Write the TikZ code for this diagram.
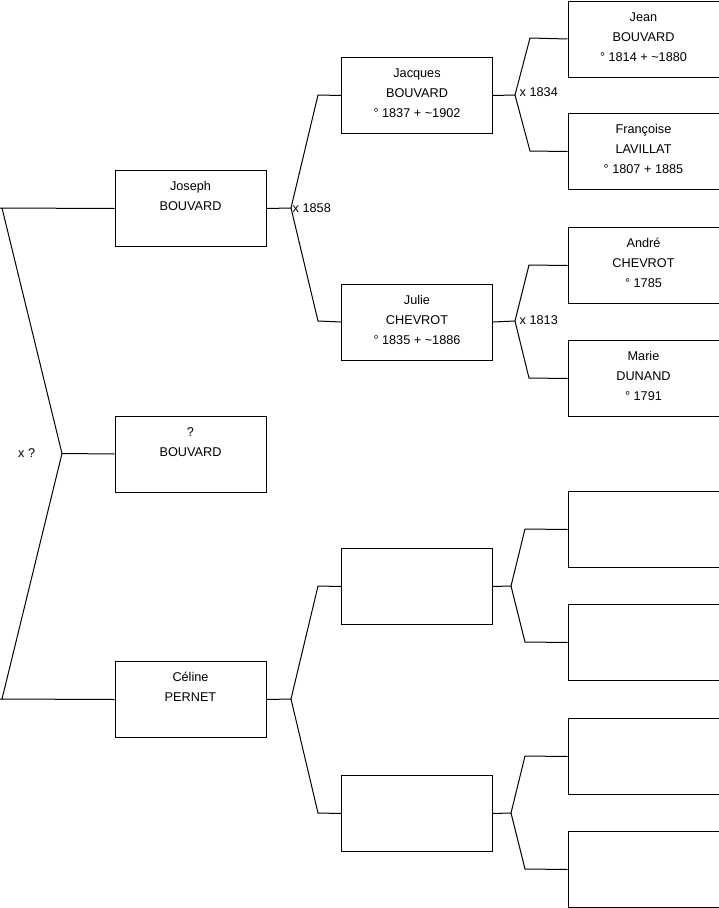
\documentclass[tikz,border=0pt]{standalone}
\usepackage{fontspec}
\setmainfont{Liberation Sans}
\usetikzlibrary{calc}
\tikzset{
  pbox/.style={draw=black, line width=1pt, rectangle, anchor=north west, minimum width=151pt, minimum height=76pt, inner sep=0pt},
  ptext/.style={anchor=base, inner sep=0pt, font=\fontsize{12.7}{20}\selectfont},
  link/.style={draw=black, line width=1pt, line join=miter},
  mlabel/.style={anchor=west, inner sep=0pt, font=\fontsize{12.7}{15}\selectfont}
}
\newcommand\pers[4]{%
  \node[pbox] (#1) at (#2,#3) {};
  \node[ptext] (#1t) at ($(#1.north)+(0,20.5)$) {\begin{tabular}[t]{@{}c@{}}#4\end{tabular}};}
\begin{document}
\begin{tikzpicture}[x=1pt,y=-1pt]
\useasboundingbox (0,0) rectangle (719,908);
% level 1
\pers{joseph}{114.5}{170}{Joseph\\BOUVARD}
\pers{unk}{114.5}{415.5}{?\\BOUVARD}
\pers{celine}{114.5}{661}{Céline\\PERNET}
% level 2
\pers{jacques}{341}{57}{Jacques\\BOUVARD\\° 1837 + \textasciitilde1902}
\pers{julie}{341}{283.5}{Julie\\CHEVROT\\° 1835 + \textasciitilde1886}
\node[pbox] (e2a) at (341,548) {};
\node[pbox] (e2b) at (341,775) {};
% level 3
\pers{jean}{567.5}{0.5}{Jean\\BOUVARD\\° 1814 + \textasciitilde1880}
\pers{francoise}{567.5}{113}{Françoise\\LAVILLAT\\° 1807 + 1885}
\pers{andre}{567.5}{227}{André\\CHEVROT\\° 1785}
\pers{marie}{567.5}{340}{Marie\\DUNAND\\° 1791}
\node[pbox] (e3a) at (567.5,491) {};
\node[pbox] (e3b) at (567.5,604) {};
\node[pbox] (e3c) at (567.5,718) {};
\node[pbox] (e3d) at (567.5,831) {};
% root fork
\coordinate (r0) at (62,453.5);
\coordinate (rt) at (2,208);
\coordinate (rb) at (2,699);
\draw[link] (joseph.west) -- (0,208) (rt) -- (r0) -- (rb) (0,699) -- (celine.west);
\draw[link] (r0) -- (unk.west);
\node[mlabel] (mroot) at (18,453) {x ?};
% level1 -> level2
\coordinate (f1) at (291,208);
\draw[link] (joseph.east) -- (f1) -- (318,95) -- (jacques.west);
\draw[link] (f1) -- (318,321) -- (julie.west);
\node[mlabel] (m1858) at (292.5,208) {x 1858};
\coordinate (f2) at (291,699);
\draw[link] (celine.east) -- (f2) -- (318,586) -- (e2a.west);
\draw[link] (f2) -- (318,813) -- (e2b.west);
% level2 -> level3
\coordinate (f3) at (515,95);
\draw[link] (jacques.east) -- (f3) -- (530,38) -- (jean.west);
\draw[link] (f3) -- (530,151) -- (francoise.west);
\node[mlabel] (m1834) at (519.5,92) {x 1834};
\coordinate (f4) at (515,321);
\draw[link] (julie.east) -- (f4) -- (529,265) -- (andre.west);
\draw[link] (f4) -- (529,378) -- (marie.west);
\node[mlabel] (m1813) at (519.5,320) {x 1813};
\coordinate (f5) at (511,586);
\draw[link] (e2a.east) -- (f5) -- (525,529) -- (e3a.west);
\draw[link] (f5) -- (525,642) -- (e3b.west);
\coordinate (f6) at (511,813);
\draw[link] (e2b.east) -- (f6) -- (525,756) -- (e3c.west);
\draw[link] (f6) -- (525,869) -- (e3d.west);
\end{tikzpicture}
\end{document}
